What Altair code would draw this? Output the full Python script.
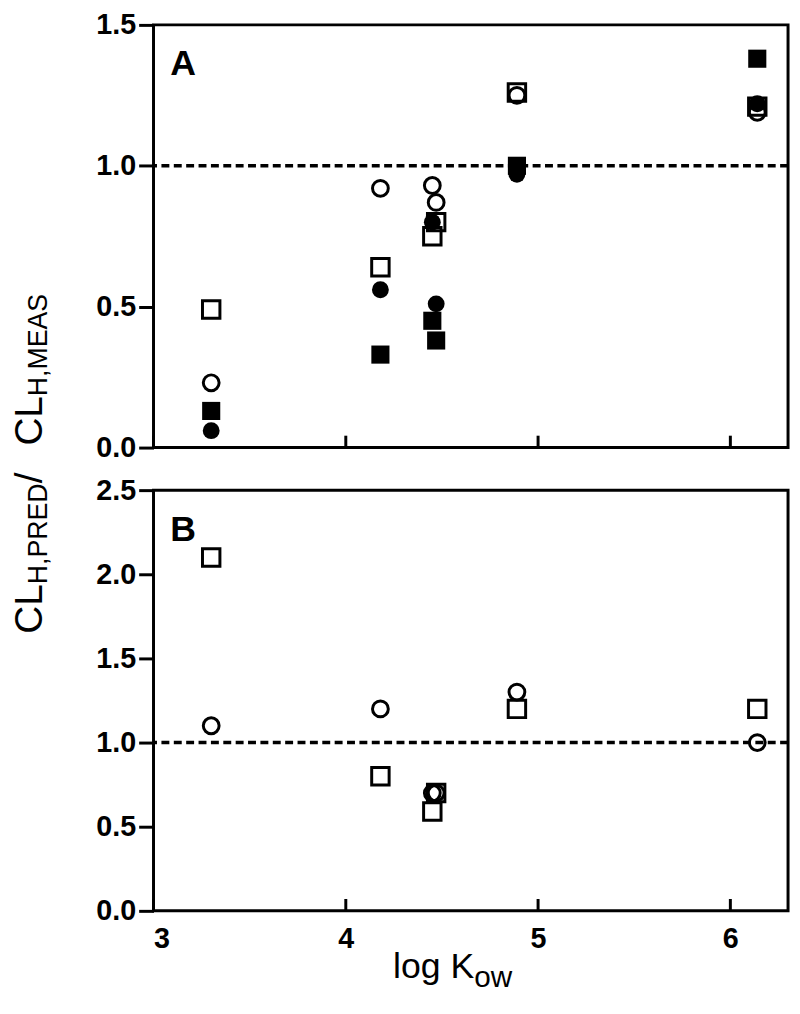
import altair as alt
import pandas as pd

# ---- data ----
log_kow = [3.30, 4.18, 4.45, 4.47, 4.89, 6.14]

a_open_circle = [0.23, 0.92, 0.93, 0.87, 1.25, 1.19]
a_open_square = [0.49, 0.64, 0.75, 0.80, 1.26, 1.21]
a_filled_circle = [0.06, 0.56, 0.80, 0.51, 0.97, 1.22]
a_filled_square = [0.13, 0.33, 0.45, 0.38, 1.00, 1.38]

b_open_circle = [1.10, 1.20, 0.70, 0.70, 1.30, 1.00]
b_open_square = [2.10, 0.80, 0.59, 0.70, 1.20, 1.20]

x_ticks = [3, 4, 5, 6]
a_y_ticks = [0.0, 0.5, 1.0, 1.5]
b_y_ticks = [0.0, 0.5, 1.0, 1.5, 2.0, 2.5]
ref_value = [1.0]

panel_labels = ["A", "B"]
y_title_parts = ["CL", "H,PRED", "/", "CL", "H,MEAS"]
x_title_parts = ["log K", "ow"]

# ---- layout ----
W = 641
HA = 427
HB = 425
FONT = "Liberation Sans"


def long_df(series):
    rows = []
    for kind, vals in series.items():
        for x, y in zip(log_kow, vals):
            rows.append({"logkow": x, "ratio": y, "kind": kind})
    return pd.DataFrame(rows)


def panel(series, y_max, y_ticks, height, show_x_labels, label, extra_texts):
    df = long_df(series)
    xscale = alt.Scale(domain=[3, 6.3], nice=False, zero=False)
    yscale = alt.Scale(domain=[0, y_max], nice=False)
    xaxis = alt.Axis(
        title=None, values=x_ticks, labels=show_x_labels, ticks=False, tickSize=0,
        domain=False, grid=False, labelPadding=14, format="d",
    )
    yaxis = alt.Axis(
        title=None, values=y_ticks, format=".1f", domain=False, grid=False,
        ticks=True, tickSize=15, tickWidth=3, tickColor="black", labelPadding=3,
    )
    X = alt.X("logkow:Q", scale=xscale, axis=xaxis)
    Y = alt.Y("ratio:Q", scale=yscale, axis=yaxis)

    layers = []
    ref = alt.Chart(pd.DataFrame({"ref": ref_value})).mark_rule(
        color="black", strokeWidth=3.5, strokeDash=[8, 4.5]
    ).encode(y=alt.Y("ref:Q", scale=yscale, axis=yaxis))
    layers.append(ref)

    ticks = alt.Chart(pd.DataFrame({"tick": x_ticks})).mark_rule(
        color="black", strokeWidth=3
    ).encode(
        x=alt.X("tick:Q", scale=xscale, axis=xaxis),
        y=alt.value(height), y2=alt.value(height - 12),
    )
    layers.append(ticks)

    styles = {
        "open_square": dict(shape="square", filled=False, size=310, strokeWidth=3),
        "open_circle": dict(shape="circle", filled=False, size=255, strokeWidth=3),
        "filled_square": dict(shape="square", filled=True, size=335, strokeWidth=0),
        "filled_circle": dict(shape="circle", filled=True, size=290, strokeWidth=0),
    }
    for kind in ["open_square", "open_circle", "filled_square", "filled_circle"]:
        if kind not in series:
            continue
        st = styles[kind]
        layers.append(
            alt.Chart(df).transform_filter(alt.datum.kind == kind).mark_point(
                color="black", opacity=1, **st
            ).encode(x=X, y=Y)
        )

    lab = alt.Chart(pd.DataFrame({"t": [label]})).mark_text(
        font=FONT, fontSize=36, fontWeight="bold", align="left",
        baseline="alphabetic", color="black",
    ).encode(x=alt.value(17), y=alt.value(51), text="t:N")
    layers.append(lab)
    layers.extend(extra_texts)

    return alt.layer(*layers).properties(width=W, height=height)


def text_piece(s, x, y, size, angle=0):
    kw = dict(font=FONT, fontSize=size, align="left", baseline="alphabetic", color="black")
    if angle:
        kw["angle"] = angle
    return alt.Chart(pd.DataFrame({"t": [s]})).mark_text(**kw).encode(
        x=alt.value(x), y=alt.value(y), text="t:N"
    )


# y-axis title, rotated, with subscripts (placed in panel A coordinates)
MAIN = 39
SUB = 27
cl_w = 1.278 * MAIN
pred_w = 3.778 * SUB
y_title = [
    text_piece(y_title_parts[0], -113, 615, MAIN, 270),
    text_piece(y_title_parts[1], -108, 615 - cl_w, SUB, 270),
    text_piece(y_title_parts[2], -113, 615 - cl_w - pred_w, MAIN, 270),
    text_piece(y_title_parts[3], -113, 425, MAIN, 270),
    text_piece(y_title_parts[4], -108, 425 - cl_w, SUB, 270),
]

# x-axis title with subscript (panel B coordinates)
XMAIN = 36
XSUB = 30
logk_w = 2.279 * XMAIN
x_title = [
    text_piece(x_title_parts[0], 242, HB + 68, XMAIN),
    text_piece(x_title_parts[1], 242 + logk_w, HB + 77, XSUB),
]

panel_a = panel(
    {"open_circle": a_open_circle, "open_square": a_open_square,
     "filled_circle": a_filled_circle, "filled_square": a_filled_square},
    1.5, a_y_ticks, HA, False, panel_labels[0], y_title,
)
panel_b = panel(
    {"open_circle": b_open_circle, "open_square": b_open_square},
    2.5, b_y_ticks, HB, True, panel_labels[1], x_title,
)

chart = alt.vconcat(panel_a, panel_b, spacing=43).properties(
    bounds="flush",
    padding={"left": 1, "top": -4, "right": 0, "bottom": 0},
).configure_view(
    stroke="black", strokeWidth=3
).configure_axis(
    labelFont=FONT, labelFontSize=29, labelFontWeight="bold", labelColor="black",
    tickColor="black",
)

chart.save("out.html", embed_options={"renderer": "svg", "actions": False})
